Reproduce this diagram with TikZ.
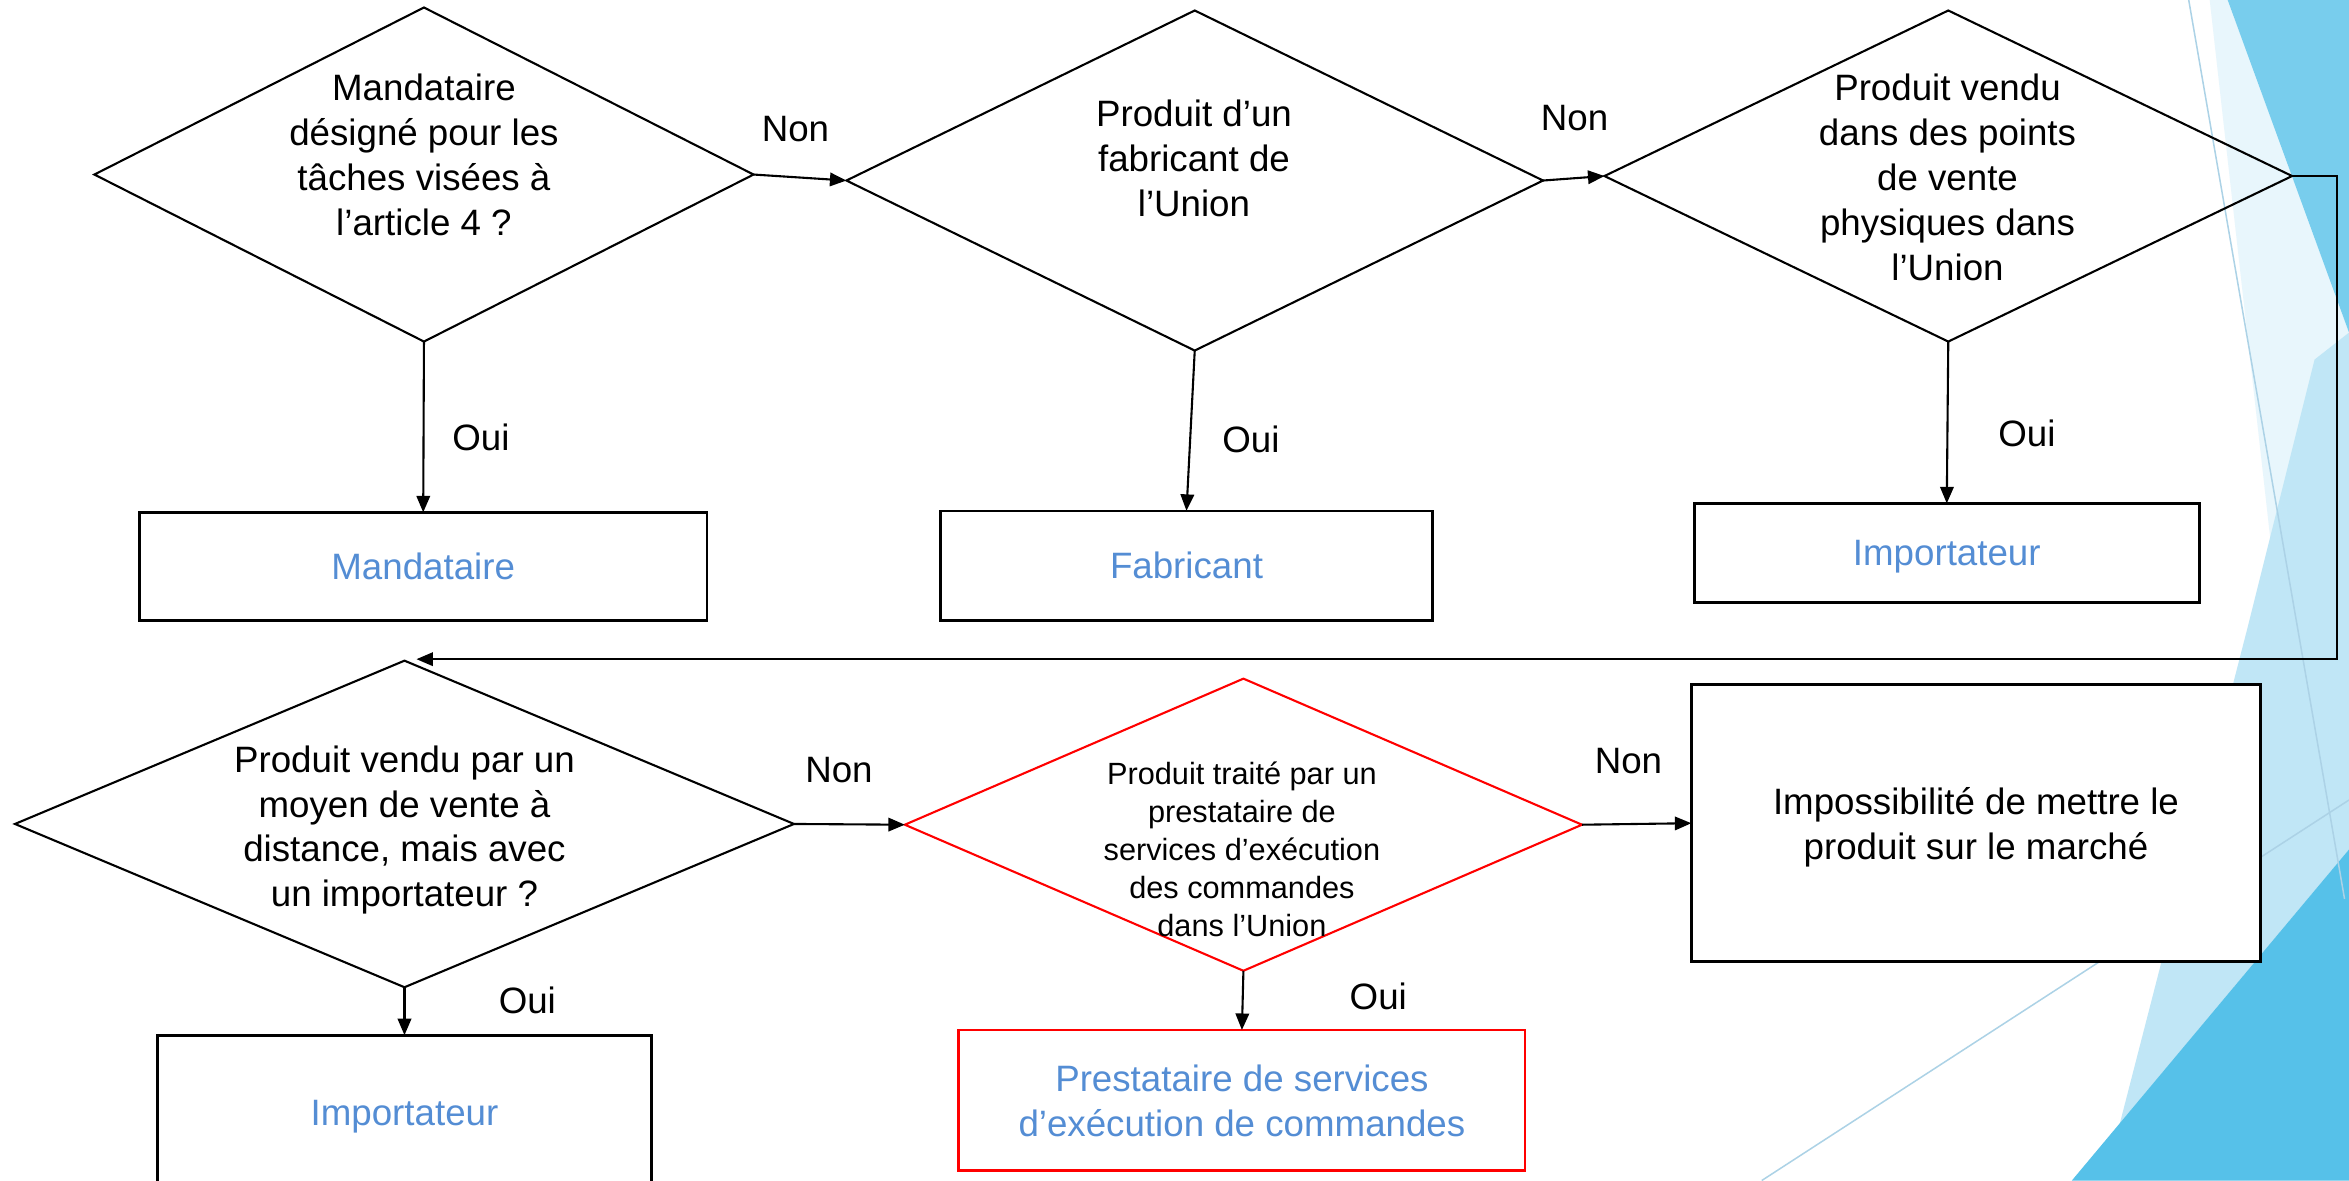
\documentclass[tikz,border=0pt]{standalone}
\usepackage{fontspec}
\setmainfont{Liberation Sans}
\usetikzlibrary{arrows.meta,shapes.geometric,calc}
\definecolor{bluetxt}{RGB}{84,141,212}
\definecolor{bgstrong}{RGB}{86,193,233}
\definecolor{bgmed}{RGB}{120,205,237}
\definecolor{bglight}{RGB}{192,230,246}
\definecolor{bgpale}{RGB}{232,246,252}
\definecolor{bgline}{RGB}{172,210,230}
\newcommand\FntBig{\fontsize{24.5}{30}\selectfont}
\newcommand\FntSmall{\fontsize{20.5}{25.3}\selectfont}
\begin{document}
\begin{tikzpicture}[x=1pt,y=-1pt,
  dia/.style={diamond, draw, line width=1.4pt, inner sep=0pt, outer sep=0pt},
  box/.style={draw, fill=white, line width=1.8pt, inner sep=0pt, outer sep=0pt, align=center,
    font=\FntBig, text=bluetxt, text depth=0pt},
  txt/.style={align=center, font=\FntBig, inner sep=0pt,
    execute at begin node=\strut, execute at end node=\strut},
  lab/.style={font=\FntBig, inner sep=0pt},
  arr/.style={line width=1.4pt, -{Triangle[length=11pt,width=9pt]}}]
\useasboundingbox (0,0) rectangle (1568,788);
\clip (0,0) rectangle (1568,788);
\fill[white] (0,0) rectangle (1568,788);
% background decoration
\fill[bgpale] (1475,0) -- (1487,0) -- (1568,222) -- (1568,560) -- (1520,400) -- cycle;
\fill[bglight] (1415,750) -- (1500,420) -- (1545,240) -- (1568,222) -- (1568,567) -- cycle;
\fill[bgmed] (1487,0) -- (1568,0) -- (1568,222) -- cycle;
\fill[bgstrong] (1383,788) -- (1568,567) -- (1568,788) -- cycle;
\draw[bgline, line width=1pt] (1461,0) -- (1565,600);
\draw[bgline, line width=1pt] (1176,788) -- (1568,534);
% decisions
\node[dia, minimum width=440, minimum height=223] (d1) at (283,116.5) {};
\node[txt] (t1) at (283,107.5) {Mandataire\\désigné pour les\\tâches visées à\\l’article 4 ?};
\node[dia, minimum width=465, minimum height=227] (d2) at (797.5,120.5) {};
\node[txt] (t2) at (797,110) {Produit d’un\\fabricant de\\l’Union};
\node[dia, minimum width=459, minimum height=221] (d3) at (1300.5,117.5) {};
\node[txt] (t3) at (1300,123) {Produit vendu\\dans des points\\de vente\\physiques dans\\l’Union};
\node[dia, minimum width=520, minimum height=218] (d4) at (270,550) {};
\node[txt] (t4) at (270,556) {Produit vendu par un\\moyen de vente à\\distance, mais avec\\un importateur ?};
\node[dia, draw=red, minimum width=452, minimum height=195] (d5) at (830,550.5) {};
\node[txt, font=\FntSmall] (t5) at (829,570.5) {Produit traité par un\\prestataire de\\services d’exécution\\des commandes\\dans l’Union};
% outcomes
\node[box, minimum width=379, minimum height=72] (b1) at (282.5,378) {Mandataire};
\node[box, minimum width=328, minimum height=73] (b2) at (792,377.5) {Fabricant};
\node[box, minimum width=337, minimum height=66] (b3) at (1299.5,369) {Importateur};
\node[box, minimum width=330, minimum height=104] (b4) at (270,743) {Importateur};
\node[box, draw=red, minimum width=378, minimum height=94] (b5) at (829,734.5) {Prestataire de services\\d’exécution de commandes};
\node[box, text=black, minimum width=380, minimum height=185] (b6) at (1319,549.5) {Impossibilité de mettre le\\produit sur le marché};
% connectors
\coordinate (rc) at (1560,440);
\coordinate (ret) at (278,440);
\draw[arr] (d1.east) -- (d2.west);
\draw[arr] (d2.east) -- (d3.west);
\draw[arr] (d3.east) -| (rc) -- (ret);
\draw[arr] (d1.south) -- (b1.north);
\draw[arr] (d2.south) -- (b2.north);
\draw[arr] (d3.south) -- (b3.north);
\draw[arr] (d4.east) -- (d5.west);
\draw[arr] (d5.east) -- (b6.west);
\draw[arr] (d4.south) -- (b4.north);
\draw[arr] (d5.south) -- (b5.north);
% labels
\node[lab] (n1) at (531,86) {Non};
\node[lab] (n2) at (1051,79) {Non};
\node[lab] (n3) at (560,514) {Non};
\node[lab] (n4) at (1087,508) {Non};
\node[lab] (o1) at (321,292) {Oui};
\node[lab] (o2) at (835,293) {Oui};
\node[lab] (o3) at (1353,289) {Oui};
\node[lab] (o4) at (352,668) {Oui};
\node[lab] (o5) at (920,665) {Oui};
\end{tikzpicture}
\end{document}
